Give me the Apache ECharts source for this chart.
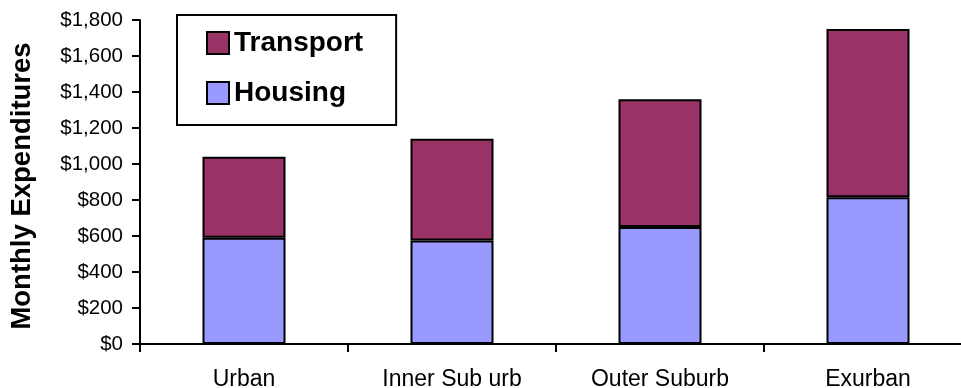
<!DOCTYPE html>
<html>
<head>
<meta charset="utf-8">
<script src="https://cdn.jsdelivr.net/npm/echarts@6/dist/echarts.min.js"></script>
<style>
  html, body { margin: 0; padding: 0; background: #fff; }
  #chart { width: 961px; height: 388px; }
</style>
</head>
<body>
<div id="chart"></div>
<script>
// Monthly household spending by location type
const categories = ['Urban', 'Inner Sub urb', 'Outer Suburb', 'Exurban'];
const housing = [590, 575, 650, 815];
const transport = [450, 565, 710, 935];
const yTicks = [0, 200, 400, 600, 800, 1000, 1200, 1400, 1600, 1800];

const fontFamily = 'Liberation Sans, Arial, sans-serif';
const chart = echarts.init(document.getElementById('chart'), null, { renderer: 'canvas' });

chart.setOption({
  animation: false,
  backgroundColor: '#ffffff',
  // plot area runs a little past the right edge of the canvas
  grid: { left: 140, top: 20, height: 324, width: 832, containLabel: false, outerBoundsMode: 'none' },
  legend: {
    data: ['Transport', 'Housing'],
    orient: 'vertical',
    left: 177,
    top: 15,
    backgroundColor: '#ffffff',
    borderColor: '#000000',
    borderWidth: 2,
    borderRadius: 0,
    padding: [14, 33, 18, 29],
    itemWidth: 22,
    itemHeight: 22,
    itemGap: 22,
    icon: 'rect',
    textStyle: { fontFamily: fontFamily, fontSize: 28, fontWeight: 'bold', color: '#000' }
  },
  xAxis: {
    type: 'category',
    data: categories,
    axisLine: { lineStyle: { color: '#000', width: 2 } },
    axisTick: { show: true, length: 8, lineStyle: { color: '#000', width: 2 } },
    axisLabel: { color: '#000', fontFamily: fontFamily, fontSize: 23, margin: 24 }
  },
  yAxis: {
    type: 'value',
    min: yTicks[0],
    max: yTicks[yTicks.length - 1],
    interval: yTicks[1] - yTicks[0],
    name: 'Monthly Expenditures',
    nameLocation: 'middle',
    nameGap: 104,
    nameTextStyle: { fontFamily: fontFamily, fontSize: 27.5, fontWeight: 'bold', color: '#000', padding: [0, 0, 0, -8] },
    splitLine: { show: false },
    axisLine: { show: true, lineStyle: { color: '#000', width: 2 } },
    axisTick: { show: true, length: 8, lineStyle: { color: '#000', width: 2 } },
    axisLabel: {
      color: '#000', fontFamily: fontFamily, fontSize: 20.5, margin: 17,
      formatter: v => '$' + v.toLocaleString('en-US')
    }
  },
  series: [
    {
      name: 'Housing',
      type: 'bar',
      stack: 'total',
      barWidth: 83,
      data: housing,
      itemStyle: { color: '#9999FF', borderColor: '#000', borderWidth: 2 }
    },
    {
      name: 'Transport',
      type: 'bar',
      stack: 'total',
      barWidth: 83,
      data: transport,
      itemStyle: { color: '#993366', borderColor: '#000', borderWidth: 2 }
    }
  ]
});
</script>
</body>
</html>
